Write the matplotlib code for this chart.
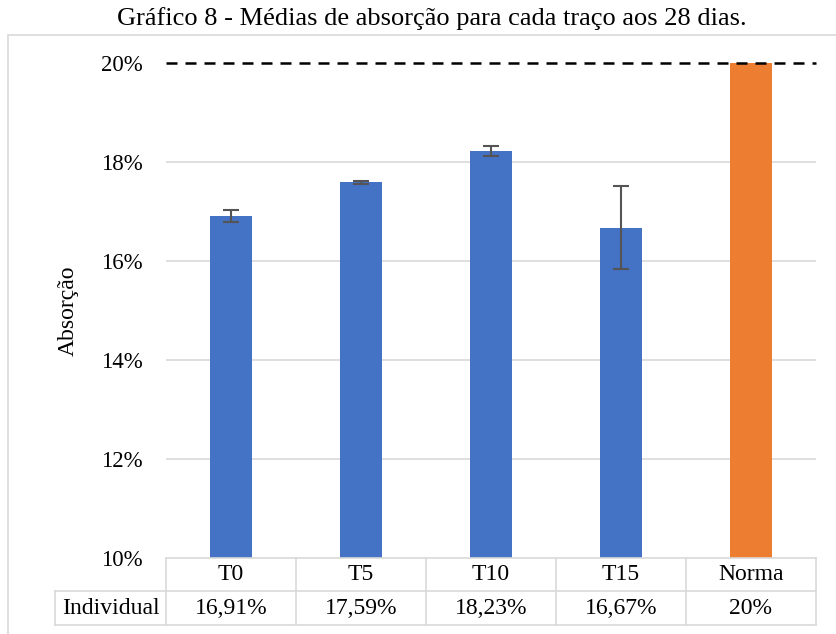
import matplotlib
matplotlib.use("Agg")
import matplotlib.pyplot as plt
from matplotlib.patches import Rectangle
from matplotlib.lines import Line2D

categories = ["T0", "T5", "T10", "T15", "Norma"]
values = [16.91, 17.59, 18.23, 16.67, 20.0]
errors = [0.13, 0.03, 0.10, 0.84, 0.0]
labels = ["16,91%", "17,59%", "18,23%", "16,67%", "20%"]
yticks = [10, 12, 14, 16, 18, 20]
norma = 20.0
title = "Gráfico 8 - Médias de absorção para cada traço aos 28 dias."
ylabel = "Absorção"
row_label = "Individual"

plt.rcParams['font.family'] = ['Liberation Serif', 'DejaVu Serif']
W, H = 836, 634
fig = plt.figure(figsize=(W / 100, H / 100), dpi=100)

def fx(px):
    return px / W

def fy(py):
    return 1 - py / H

grid_c = "#d9d9d9"
# outer chart frame
fig.patches.append(Rectangle((fx(8), fy(700)), fx(900), fy(35) - fy(700),
                             transform=fig.transFigure, fill=False,
                             edgecolor="#d9d9d9", linewidth=1.2))

ax_l, ax_r, ax_t, ax_b = 166, 816, 63, 558
ax = fig.add_axes([fx(ax_l), fy(ax_b), fx(ax_r - ax_l), fy(ax_t) - fy(ax_b)])
x = list(range(len(categories)))
colors = ["#4472C4"] * 4 + ["#ED7D31"]
ax.bar(x, [v - 10 for v in values], bottom=10, width=0.32, color=colors, zorder=2)
ax.errorbar(x[:4], values[:4], yerr=errors[:4], fmt="none", ecolor="#545454",
            elinewidth=1.5, capsize=5.5, capthick=1.5, zorder=3)
ax.set_xlim(-0.5, 4.5)
ax.set_ylim(10, 20)
ax.set_yticks(yticks)
ax.set_yticklabels([f"{t}%" for t in yticks], fontsize=16.5)
ax.set_xticks([])
for t in yticks[1:-1]:
    ax.axhline(t, color=grid_c, linewidth=1.2, zorder=1)
for s in ax.spines.values():
    s.set_visible(False)
ax.tick_params(axis="y", length=0, pad=17)
ax.plot([-0.5, 4.5], [norma, norma], color="black",
        linestyle=(0, (4.4, 3.2)), linewidth=1.8, clip_on=False, zorder=4)
ax.set_ylabel(ylabel, fontsize=17)
ax.yaxis.set_label_coords((79 - ax_l) / (ax_r - ax_l), 0.5)

# data table
t_top, t_mid, t_bot = 558, 591, 625
tab = fig.add_axes([fx(55), fy(t_bot), fx(816 - 55), fy(t_top) - fy(t_bot)])
tab.set_xlim(55, 816)
tab.set_ylim(t_bot, t_top)
tab.axis("off")
lw = 1.2
cols = [166, 296, 426, 556, 686, 816]
tab.add_line(Line2D([166, 816], [t_top, t_top], color=grid_c, lw=lw, clip_on=False))
tab.add_line(Line2D([55, 816], [t_mid, t_mid], color=grid_c, lw=lw, clip_on=False))
tab.add_line(Line2D([55, 816], [t_bot, t_bot], color=grid_c, lw=lw, clip_on=False))
tab.add_line(Line2D([55, 55], [t_mid, t_bot], color=grid_c, lw=lw, clip_on=False))
for c in cols:
    tab.add_line(Line2D([c, c], [t_top, t_bot], color=grid_c, lw=lw, clip_on=False))
for i, (cat, lab) in enumerate(zip(categories, labels)):
    cx = (cols[i] + cols[i + 1]) / 2
    tab.text(cx, (t_top + t_mid) / 2, cat, ha="center", va="center", fontsize=17)
    tab.text(cx, (t_mid + t_bot) / 2, lab, ha="center", va="center", fontsize=17)
tab.text(110.5, (t_mid + t_bot) / 2, row_label, ha="center", va="center", fontsize=17)

fig.text(fx(432), fy(19), title, ha="center", va="center", fontsize=19)
fig.savefig("out.png", dpi=100)
